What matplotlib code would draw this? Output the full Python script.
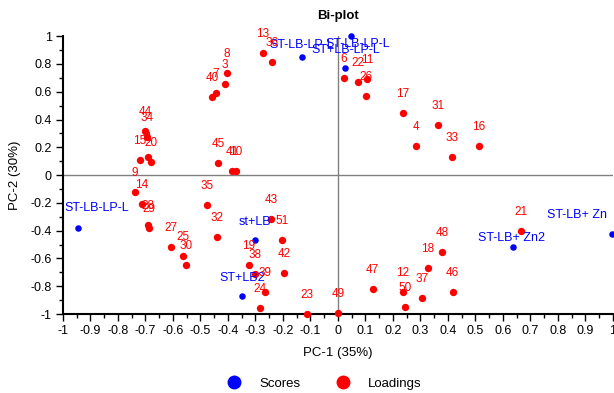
import matplotlib
matplotlib.use("Agg")
import matplotlib.pyplot as plt
from matplotlib.lines import Line2D
from matplotlib.ticker import MultipleLocator, FuncFormatter

plt.rcParams['font.family'] = ['Liberation Sans', 'DejaVu Sans']

# scores (samples)
score_names = ["ST-LB-LP-L", "ST-LB+ Zn", "ST-LB+ Zn2", "st+LB", "ST+LB2",
               "ST-LB-LP-L", "ST+LB-LP-L", "ST-LB-LP-L"]
score_pc1 = [-0.945, 0.996, 0.636, -0.302, -0.349, -0.131, 0.025, 0.047]
score_pc2 = [-0.381, -0.424, -0.518, -0.468, -0.871, 0.849, 0.770, 1.000]

# loadings (variables)
loading_names = ["13", "36", "8", "3", "7", "40", "6", "22", "11", "26",
                 "17", "31", "4", "33", "16", "44", "34", "15", "1", "20",
                 "9", "14", "28", "29", "45", "41", "10", "35", "32", "27",
                 "25", "30", "43", "51", "19", "38", "39", "24", "42", "23",
                 "49", "47", "12", "50", "37", "18", "48", "46", "21"]
loading_pc1 = [-0.273, -0.240, -0.404, -0.411, -0.444, -0.458, 0.022, 0.073, 0.105, 0.102,
               0.236, 0.364, 0.284, 0.415, 0.513, -0.702, -0.695, -0.720, -0.691, -0.680,
               -0.738, -0.713, -0.691, -0.687, -0.436, -0.385, -0.371, -0.476, -0.440, -0.607,
               -0.564, -0.553, -0.244, -0.204, -0.324, -0.302, -0.265, -0.284, -0.196, -0.113,
               0.000, 0.127, 0.236, 0.244, 0.305, 0.327, 0.378, 0.418, 0.665]
loading_pc2 = [0.878, 0.813, 0.734, 0.655, 0.590, 0.561, 0.698, 0.669, 0.690, 0.568,
               0.446, 0.360, 0.209, 0.130, 0.209, 0.317, 0.273, 0.108, 0.129, 0.094,
               -0.122, -0.209, -0.360, -0.381, 0.086, 0.029, 0.029, -0.216, -0.446, -0.518,
               -0.583, -0.647, -0.317, -0.468, -0.647, -0.712, -0.842, -0.957, -0.705, -1.000,
               -0.993, -0.820, -0.842, -0.950, -0.885, -0.669, -0.554, -0.842, -0.403]

# label offsets (pixels) for score labels that were pushed inside the frame
score_offsets = {0: (19, 20), 1: (-35, 19), 2: (-1, 9), 5: (0, 12), 6: (1, 18), 7: (7, -8)}

fig = plt.figure(figsize=(6.14, 3.93), dpi=100)
ax = fig.add_axes([0.1026, 0.201, 0.8954, 0.707])

ax.axhline(0, color='#808080', lw=1, zorder=1)
ax.axvline(0, color='#808080', lw=1, zorder=1)

ax.scatter(score_pc1, score_pc2, s=22, color='blue', zorder=3, clip_on=False, linewidths=0)
ax.scatter(loading_pc1, loading_pc2, s=28, color='red', zorder=3, clip_on=False, linewidths=0)

for i, name in enumerate(score_names):
    off = score_offsets.get(i, (0, 18))
    ax.annotate(name, (score_pc1[i], score_pc2[i]), xytext=off, textcoords='offset pixels',
                ha='center', va='center', color='blue', fontsize=9, zorder=4)
for i, name in enumerate(loading_names):
    ax.annotate(name, (loading_pc1[i], loading_pc2[i]), xytext=(0, 19), textcoords='offset pixels',
                ha='center', va='center', color='red', fontsize=8.5, zorder=4)

ax.set_xlim(-1, 1)
ax.set_ylim(-1, 1)
for s in ['top', 'right']:
    ax.spines[s].set_visible(False)
for s in ['left', 'bottom']:
    ax.spines[s].set_linewidth(1.5)
    ax.spines[s].set_color('black')

def fmt(v, pos):
    t = f"{round(v, 2):g}"
    return "0" if t == "-0" else t

ax.xaxis.set_major_locator(MultipleLocator(0.1))
ax.xaxis.set_minor_locator(MultipleLocator(0.05))
ax.yaxis.set_major_locator(MultipleLocator(0.2))
ax.yaxis.set_minor_locator(MultipleLocator(0.1))
ax.xaxis.set_major_formatter(FuncFormatter(fmt))
ax.yaxis.set_major_formatter(FuncFormatter(fmt))
ax.tick_params(which='major', length=5, width=1, labelsize=9, pad=3)
ax.tick_params(which='minor', length=3, width=1)

ax.set_xlabel("PC-1 (35%)", fontsize=9.5, labelpad=7)
ax.set_ylabel("PC-2 (30%)", fontsize=9.5, labelpad=7)
ax.set_title("Bi-plot", fontsize=9.5, fontweight='bold', pad=12)

handles = [Line2D([], [], ls='', marker='o', ms=9, color='blue', label='Scores'),
           Line2D([], [], ls='', marker='o', ms=9, color='red', label='Loadings')]
fig.legend(handles=handles, loc='center', bbox_to_anchor=(0.523, 0.024), ncol=2,
           frameon=False, fontsize=9.5, handletextpad=0.9, columnspacing=2.2)

fig.savefig("out.png", dpi=100)
